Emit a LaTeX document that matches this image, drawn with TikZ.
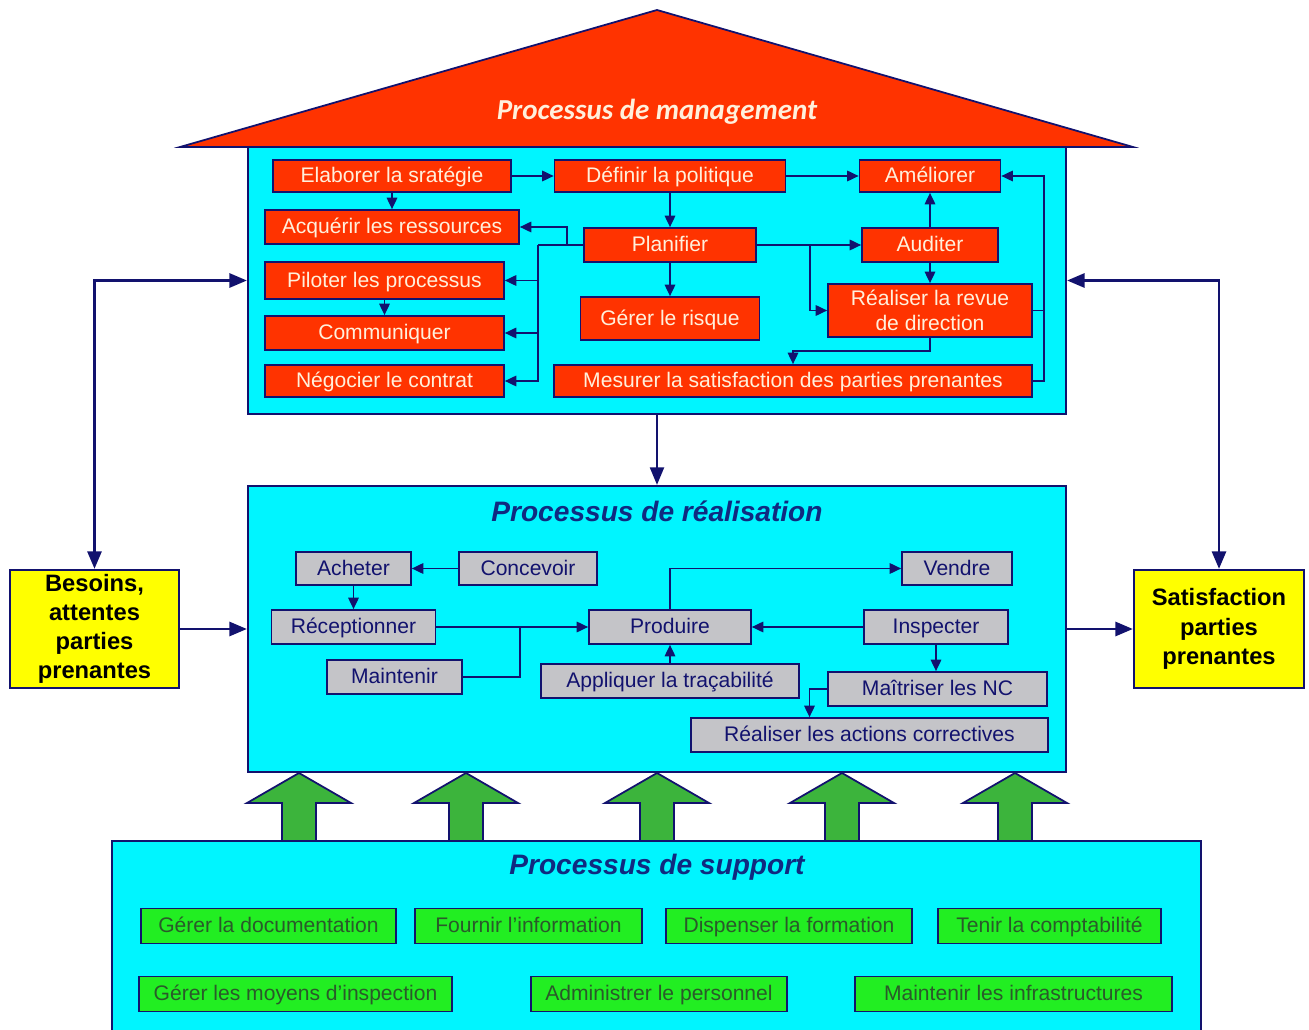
\documentclass[tikz,border=0pt]{standalone}
\usepackage{fontspec}
\setmainfont{Liberation Sans}
\newfontfamily\rooffont{Carlito}
\usepackage{tikz}
\usetikzlibrary{arrows.meta, positioning, calc}
\definecolor{mCyan}{HTML}{00F5FF}
\definecolor{mRed}{HTML}{FF3300}
\definecolor{mNavy}{HTML}{12126E}
\definecolor{mTitle}{HTML}{102A80}
\definecolor{mGray}{HTML}{C4C4C8}
\definecolor{mYellow}{HTML}{FFFF00}
\definecolor{mGreen}{HTML}{22EE22}
\definecolor{mLeaf}{HTML}{3CB43C}
\definecolor{mMoss}{HTML}{2A5A2A}
\definecolor{mCream}{HTML}{FFF0DC}

\begin{document}
\begin{tikzpicture}[x=0.02cm, y=-0.02cm,
    arr/.style={-{Triangle[length=6.5pt,width=6pt]}, draw=mNavy, line width=0.85pt},
    bigarr/.style={-{Triangle[length=10pt,width=8pt]}, draw=mNavy, line width=1.6pt},
    bothway/.style={{Triangle[length=10pt,width=8pt]}-{Triangle[length=10pt,width=8pt]}, draw=mNavy, line width=1.6pt},
    panel/.style={draw=mNavy, line width=1.3pt, fill=mCyan, inner sep=0pt},
    mbox/.style={draw=mNavy, line width=1pt, fill=mRed, text=mCream, inner sep=0pt, align=center,
      text height=9.6pt, text depth=1.8pt, font=\fontsize{12}{14}\selectfont},
    rbox/.style={mbox, fill=mGray, text=mNavy},
    sbox/.style={mbox, fill=mGreen, text=mMoss},
    ybox/.style={draw=mNavy, line width=1.3pt, fill=mYellow, inner sep=0pt, align=center,
      font=\fontsize{13.5}{16.6}\selectfont\bfseries},
    ptitle/.style={text=mTitle, font=\fontsize{16}{18}\selectfont\bfseries\itshape}
  ]
  \useasboundingbox (0,0) rectangle (1309,1030);

  % roof and management panel
  \filldraw[fill=mRed, draw=mNavy, line width=1pt] (180,147) -- (657,10) -- (1133,147) -- cycle;
  \node[text=mCream, font=\rooffont\fontsize{16.5}{20}\selectfont\bfseries\itshape] (mtitle) at (657,112) {Processus de management};
  \node[panel, minimum width=16.36cm, minimum height=5.34cm] (mgmt) at (657,280.5) {};

  \node[mbox, minimum width=4.76cm, minimum height=0.64cm] (elab) at (392,176) {Elaborer la sratégie};
  \node[mbox, minimum width=4.62cm, minimum height=0.64cm] (def) at (670,176) {Définir la politique};
  \node[mbox, minimum width=2.82cm, minimum height=0.64cm] (amel) at (930,176) {Améliorer};
  \node[mbox, minimum width=5.08cm, minimum height=0.68cm] (acq) at (392,227) {Acquérir les ressources};
  \node[mbox, minimum width=3.44cm, minimum height=0.68cm] (plan) at (670,245) {Planifier};
  \node[mbox, minimum width=2.72cm, minimum height=0.68cm] (aud) at (930,245) {Auditer};
  \node[mbox, minimum width=4.78cm, minimum height=0.74cm] (pil) at (384.5,280.5) {Piloter les processus};
  \node[mbox, minimum width=3.58cm, minimum height=0.86cm] (risk) at (670,318.5) {Gérer le risque};
  \node[mbox, minimum width=4.08cm, minimum height=1.06cm, text height=, text depth=] (revue) at (930,310.5) {Réaliser la revue\\de direction};
  \node[mbox, minimum width=4.78cm, minimum height=0.68cm] (comm) at (384.5,333) {Communiquer};
  \node[mbox, minimum width=4.78cm, minimum height=0.64cm] (nego) at (384.5,381) {Négocier le contrat};
  \node[mbox, minimum width=9.56cm, minimum height=0.64cm] (mes) at (793,381) {Mesurer la satisfaction des parties prenantes};

  \draw[arr] (elab) -- (def);
  \draw[arr] (elab) -- (acq);
  \draw[arr] (def) -- (amel);
  \draw[arr] (def) -- (plan);
  \draw[arr] (plan) -- (risk);
  \draw[arr] (plan) -- (aud);
  \draw[arr] (aud) -- (amel);
  \draw[arr] (aud) -- (revue);
  \draw[arr] (pil) -- (comm);
  \draw[arr] (plan.west) -- ++(-16,0) |- (acq.east);
  \coordinate (jm) at (538,245);
  \draw[draw=mNavy, line width=0.85pt] (plan.west) -- (jm);
  \draw[arr] (jm) |- (pil.east);
  \draw[arr] (jm) |- (comm.east);
  \draw[arr] (jm) |- (nego.east);
  \coordinate (jp) at (810,245);
  \draw[arr] (jp) |- (revue.west);
  \draw[arr] (revue.south) -- ++(0,13) -| (mes.north);
  \draw[arr] (mes.east) -- ++(11,0) coordinate (jq) |- (amel.east);
  \draw[draw=mNavy, line width=0.85pt] (revue.east) -- (revue.east -| jq);

  % realisation panel
  \node[panel, minimum width=16.36cm, minimum height=5.72cm] (real) at (657,629) {};
  \node[ptitle] (rtitle) at (657,511) {Processus de réalisation};
  \draw[bigarr, line width=1.2pt] (mgmt) -- (real);

  \node[rbox, minimum width=2.30cm, minimum height=0.66cm] (ach) at (353.5,568.5) {Acheter};
  \node[rbox, minimum width=2.76cm, minimum height=0.66cm] (conc) at (528,568.5) {Concevoir};
  \node[rbox, minimum width=3.28cm, minimum height=0.68cm] (rec) at (353.5,627) {Réceptionner};
  \node[rbox, minimum width=2.70cm, minimum height=0.68cm] (maint) at (394.5,677) {Maintenir};
  \node[rbox, minimum width=3.24cm, minimum height=0.68cm] (prod) at (670,627) {Produire};
  \node[rbox, minimum width=5.16cm, minimum height=0.68cm] (tra) at (670,681) {Appliquer la traçabilité};
  \node[rbox, minimum width=2.20cm, minimum height=0.66cm] (vend) at (957,568.5) {Vendre};
  \node[rbox, minimum width=2.88cm, minimum height=0.68cm] (insp) at (936,627) {Inspecter};
  \node[rbox, minimum width=4.38cm, minimum height=0.68cm] (nc) at (937.5,689) {Maîtriser les NC};
  \node[rbox, minimum width=7.14cm, minimum height=0.68cm] (corr) at (869.5,735) {Réaliser les actions correctives};

  \draw[arr] (conc) -- (ach);
  \draw[arr] (ach) -- (rec);
  \draw[arr] (rec) -- (prod);
  \coordinate (jr) at (520,627);
  \draw[draw=mNavy, line width=0.85pt] (maint.east) -| (jr);
  \draw[arr] (tra) -- (prod);
  \draw[arr] (insp) -- (prod);
  \draw[arr] (prod.north) |- (vend.west);
  \draw[arr] (insp.south) -- (insp.south |- nc.north);
  \draw[arr] (nc.west) -| ($(corr.north)+(-60,0)$);

  % stakeholders
  \node[ybox, minimum width=3.38cm, minimum height=2.36cm] (bes) at (94.5,629) {Besoins,\\attentes\\parties\\prenantes};
  \node[ybox, minimum width=3.40cm, minimum height=2.36cm] (sat) at (1219,629) {Satisfaction\\parties\\prenantes};
  \draw[bigarr] (bes) -- (real);
  \draw[bigarr] (real) -- (sat);
  \draw[bothway] (bes.north) |- (mgmt.west);
  \draw[bothway] (sat.north) |- (mgmt.east);

  % support arrows and panel
  \foreach \ax in {299,466,657,842,1015}
    \filldraw[fill=mLeaf, draw=mNavy, line width=1pt] (\ax-17,842) -- (\ax-17,803) -- (\ax-52,803)
      -- (\ax,773) -- (\ax+52,803) -- (\ax+17,803) -- (\ax+17,842) -- cycle;
  \node[panel, minimum width=21.78cm, minimum height=4.0cm] (sup) at (656.5,941) {};
  \node[ptitle] (stitle) at (657,867) {Processus de support};

  \node[sbox, minimum width=5.10cm, minimum height=0.70cm] (doc) at (268.5,926) {Gérer la documentation};
  \node[sbox, minimum width=4.54cm, minimum height=0.70cm] (info) at (528.5,926) {Fournir l'information};
  \node[sbox, minimum width=4.92cm, minimum height=0.70cm] (form) at (789,926) {Dispenser la formation};
  \node[sbox, minimum width=4.46cm, minimum height=0.70cm] (compt) at (1049.5,926) {Tenir la comptabilité};
  \node[sbox, minimum width=6.26cm, minimum height=0.70cm] (moy) at (295.5,994) {Gérer les moyens d'inspection};
  \node[sbox, minimum width=5.12cm, minimum height=0.70cm] (pers) at (659,994) {Administrer le personnel};
  \node[sbox, minimum width=6.34cm, minimum height=0.70cm] (infra) at (1013.5,994) {Maintenir les infrastructures};
\end{tikzpicture}
\end{document}
